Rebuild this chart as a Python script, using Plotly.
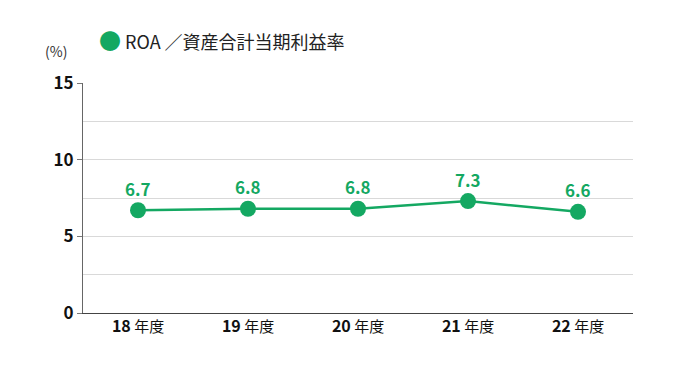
import plotly.graph_objects as go

categories = ["18", "19", "20", "21", "22"]
tick_suffix = "年度"
roa_values = [6.7, 6.8, 6.8, 7.3, 6.6]
value_labels = ["6.7", "6.8", "6.8", "7.3", "6.6"]
y_ticks = [0, 5, 10, 15]
series_name = "ROA ／資産合計当期利益率"

GREEN = "#14a862"
FONT = "Noto Sans CJK JP"

fig = go.Figure()
fig.add_trace(go.Scatter(
    x=categories, y=roa_values,
    mode="lines+markers",
    line=dict(color=GREEN, width=2.5),
    marker=dict(color=GREEN, size=16),
    cliponaxis=False,
    showlegend=False,
))

label_annotations = [
    dict(x=i, y=v, xref="x", yref="y", text=f"<b>{t}</b>", showarrow=False,
         yshift=22, yanchor="middle", xanchor="center",
         font=dict(color=GREEN, size=17, family=FONT))
    for i, (v, t) in enumerate(zip(roa_values, value_labels))
]

fig.update_layout(
    width=690, height=374,
    margin=dict(l=75, r=65, t=75, b=69),
    paper_bgcolor="white", plot_bgcolor="white",
    font=dict(family=FONT, color="#222222"),
    xaxis=dict(
        type="category",
        tickvals=categories,
        ticktext=[f"<b><span style='font-size:16px'>{c}</span></b> {tick_suffix}" for c in categories],
        tickfont=dict(size=15, color="#111111"),
        showline=True, linecolor="#444444", linewidth=1,
        ticks="", showgrid=False,
        range=[-0.5, 4.5],
    ),
    yaxis=dict(
        range=[0, 15],
        tickvals=y_ticks,
        ticktext=[f"<b>{v}</b>" for v in y_ticks],
        tickfont=dict(size=17, color="#111111"),
        ticks="outside", ticklen=5, tickcolor="#777777",
        showline=True, linecolor="#666666", linewidth=1,
        showgrid=True, gridcolor="#d9d9d9", gridwidth=1,
        minor=dict(dtick=2.5, showgrid=True, gridcolor="#d9d9d9", ticks=""),
        zeroline=False,
    ),
    annotations=label_annotations + [
        dict(text="(%)", xref="paper", yref="paper", x=-0.025, y=1.085,
             xanchor="right", yanchor="bottom", showarrow=False,
             font=dict(size=14, color="#333333")),
        dict(text=f"<span style='color:{GREEN};font-size:22px'>●</span> {series_name}",
             xref="paper", yref="paper", x=0.025, y=1.115,
             xanchor="left", yanchor="bottom", showarrow=False,
             font=dict(size=18, color="#222222")),
    ],
)

fig.write_html("out.html")
